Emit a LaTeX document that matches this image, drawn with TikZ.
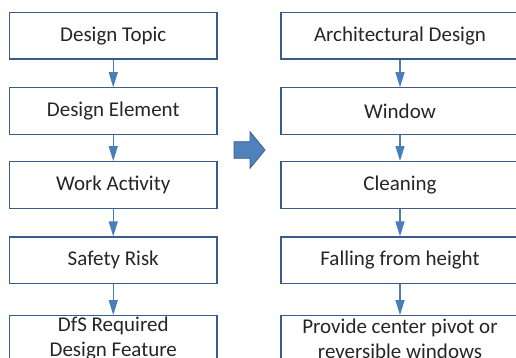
\documentclass[tikz,border=0pt]{standalone}
\usepackage{fontspec}
\setmainfont{Carlito}
\usetikzlibrary{arrows.meta}
\definecolor{boxline}{RGB}{56,93,138}
\definecolor{linkblue}{RGB}{74,126,187}
\definecolor{arrowfill}{RGB}{79,129,189}

\begin{document}
\begin{tikzpicture}[x=1pt,y=-1pt,
  stepbox/.style={draw=boxline,line width=1.3pt,fill=white,align=center,
    text=black!85,font=\fontsize{21}{25}\selectfont,inner sep=0pt},
  leftbox/.style={stepbox,minimum width=207.5pt,minimum height=46.5pt},
  rightbox/.style={stepbox,minimum width=238pt,minimum height=46.5pt},
  link/.style={draw=linkblue,line width=1.2pt,-{Triangle[length=15pt,width=9pt]}}]
\clip (0,0) rectangle (516,358);

% Generic chain
\node[leftbox] (topic)    at (113.25,35.85) {Design Topic};
\node[leftbox] (element)  at (113.25,111.1) {Design Element};
\node[leftbox] (activity) at (113.25,185)   {Work Activity};
\node[leftbox] (risk)     at (113.25,260.3) {Safety Risk};
\node[leftbox] (feature)  at (113.25,339)   {DfS Required\\Design Feature};

% Example chain
\node[rightbox] (arch)     at (400,35.85) {Architectural Design};
\node[rightbox] (window)   at (400,111.1) {Window};
\node[rightbox] (cleaning) at (400,185)   {Cleaning};
\node[rightbox] (falling)  at (400,260.3) {Falling from height};
\node[rightbox] (pivot)    at (400,339)   {Provide center pivot or\\reversible windows};

% Links
\draw[link] (topic) -- (element);
\draw[link] (element) -- (activity);
\draw[link] (activity) -- (risk);
\draw[link] (risk) -- (feature);
\draw[link] (arch) -- (window);
\draw[link] (window) -- (cleaning);
\draw[link] (cleaning) -- (falling);
\draw[link] (falling) -- (pivot);

% Block arrow between the chains
\filldraw[fill=arrowfill,draw=boxline,line width=0.8pt]
  (234,141.7) -- (250,141.7) -- (250,131.7) -- (265,150) --
  (250,168.3) -- (250,158.3) -- (234,158.3) -- cycle;
\end{tikzpicture}
\end{document}
